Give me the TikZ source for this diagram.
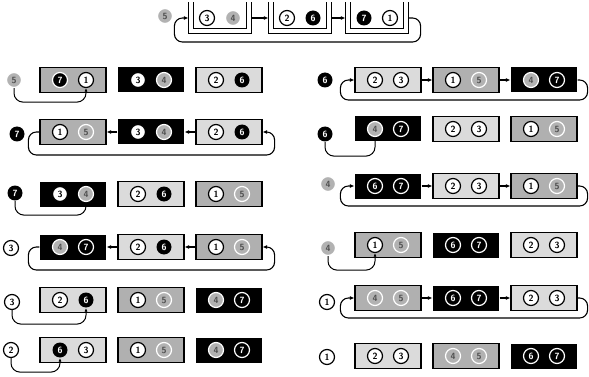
\documentclass[tikz,border=0pt]{standalone}
\usepackage{tikz}
\usetikzlibrary{positioning,calc,arrows.meta}

\begin{document}
\begin{tikzpicture}[x=1pt,y=-1pt,
	box/.style={rectangle,minimum width=66,minimum height=25,inner sep=0,line width=1.2},
	lbox/.style={box,draw,fill=gray!28},
	mbox/.style={box,draw,fill=gray!62},
	dbox/.style={box,fill=black},
	ubox/.style={box,minimum width=62,minimum height=30},
	num/.style={circle,minimum size=15,inner sep=0,line width=1.2,font=\sffamily\bfseries\fontsize{9pt}{9pt}\selectfont},
	wc/.style={num,draw=black,fill=white},
	bc/.style={num,fill=black,text=white},
	rc/.style={bc,draw=white},
	gc/.style={num,draw=white,fill=gray!60,text=black!70},
	link/.style={line width=1.1,-{Latex[length=4.5pt,width=4pt]}},
	loopline/.style={link,rounded corners=8},
	conn/.style={line width=1,rounded corners=9,-{Latex[length=3.5pt,width=3pt]}}]
	\useasboundingbox (0,0) rectangle (589,377);
	
	% 所有的桶：名字/x/y/样式/左球/样式/右球/样式
	\foreach \n/\x/\y/\s/\p/\ps/\q/\qs in {
		T1/220/18/ubox/3/wc/4/gc, T2/300/18/ubox/2/wc/6/bc, T3/377/18/ubox/7/bc/1/wc,
		L1a/73/80/mbox/7/rc/1/wc, L1b/151/80/dbox/3/wc/4/gc, L1c/229/80/lbox/2/wc/6/bc,
		L2a/73/132/mbox/1/wc/5/gc, L2b/151/132/dbox/3/wc/4/gc, L2c/229/132/lbox/2/wc/6/bc,
		L3a/73/194/dbox/3/wc/4/gc, L3b/151/194/lbox/2/wc/6/bc, L3c/229/194/mbox/1/wc/5/gc,
		L4a/73/247/dbox/4/gc/7/rc, L4b/151/247/lbox/2/wc/6/bc, L4c/229/247/mbox/1/wc/5/gc,
		L5a/73/300/lbox/2/wc/6/bc, L5b/151/300/mbox/1/wc/5/gc, L5c/229/300/dbox/4/gc/7/rc,
		L6a/73/350/lbox/6/bc/3/wc, L6b/151/350/mbox/1/wc/5/gc, L6c/229/350/dbox/4/gc/7/rc,
		R1a/388/80/lbox/2/wc/3/wc, R1b/466/80/mbox/1/wc/5/gc, R1c/544/80/dbox/4/gc/7/rc,
		R2a/388/129/dbox/4/gc/7/rc, R2b/466/129/lbox/2/wc/3/wc, R2c/544/129/mbox/1/wc/5/gc,
		R3a/388/186/dbox/6/rc/7/rc, R3b/466/186/lbox/2/wc/3/wc, R3c/544/186/mbox/1/wc/5/gc,
		R4a/388/245/mbox/1/wc/5/gc, R4b/466/245/dbox/6/rc/7/rc, R4c/544/245/lbox/2/wc/3/wc,
		R5a/388/298/mbox/4/gc/5/gc, R5b/466/298/dbox/6/rc/7/rc, R5c/544/298/lbox/2/wc/3/wc,
		R6a/388/356/lbox/2/wc/3/wc, R6b/466/356/mbox/4/gc/5/gc, R6c/544/356/dbox/6/rc/7/rc}
	{
		\node[\s] (\n) at (\x,\y) {};
		\node[\ps] (\n-1) at (\x-13,\y) {\p};
		\node[\qs] (\n-2) at (\x+13,\y) {\q};
	}
	
	% 顶部的U形桶（双线）
	\foreach \n in {T1,T2,T3} {
		\draw[line width=1] (\n.north west) |- (\n.south east) -- (\n.north east);
		\draw[line width=1] ($(\n.north west)+(5,0)$) |- ($(\n.south east)+(-5,-5)$) -- ($(\n.north east)+(-5,0)$);
	}
	
	% 每一行左边的编号
	\foreach \n/\x/\y/\s/\t in {Tlab/165/16/gc/5,
		L1lab/14/80/gc/5, L2lab/17/134/bc/7, L3lab/15/193/bc/7,
		L4lab/11/248/wc/3, L5lab/12/302/wc/3, L6lab/11/350/wc/2,
		R1lab/325/80/bc/6, R2lab/325/134/bc/6, R3lab/328/184/gc/4,
		R4lab/328/248/gc/4, R5lab/327/302/wc/1, R6lab/327/357/wc/1}
	\node[\s] (\n) at (\x,\y) {\t};
	
	% 向右的链：顶部、R1、R3、R5
	\draw[link] (T1) -- (T2);
	\draw[link] (T2) -- (T3);
	\draw[loopline] (T3.east) -- ++(12,0) -- ++(0,24) -| ($(T1.west)+(-14,0)$) -- (T1.west);
	\foreach \r in {R1,R3,R5} {
		\draw[link] (\r a) -- (\r b);
		\draw[link] (\r b) -- (\r c);
		\draw[loopline] (\r c.east) -- ++(10,0) -- ++(0,20) -| ($(\r a.west)+(-14,0)$) -- (\r a.west);
	}
	
	% 向左的链：L2、L4
	\foreach \r in {L2,L4} {
		\draw[link] (\r c) -- (\r b);
		\draw[link] (\r b) -- (\r a);
		\draw[loopline] (\r a.west) -- ++(-11,0) -- ++(0,23) -| ($(\r c.east)+(12,0)$) -- (\r c.east);
	}
	
	% 编号指向桶里的球
	\draw[conn] (L1lab.south) -- ++(0,14) -| (L1a-2.south);
	\draw[conn] (L3lab.south) -- ++(0,14) -| (L3a-2.south);
	\draw[conn] (L5lab.south) -- ++(0,14) -| (L5a-2.south);
	\draw[conn] (L6lab.south) -- ++(0,14) -| (L6a-1.south);
	\draw[conn] (R2lab.south) -- ++(0,14) -| (R2a-1.south);
	\draw[conn] (R4lab.south) -- ++(0,14) -| (R4a-1.south);
\end{tikzpicture}
\end{document}
